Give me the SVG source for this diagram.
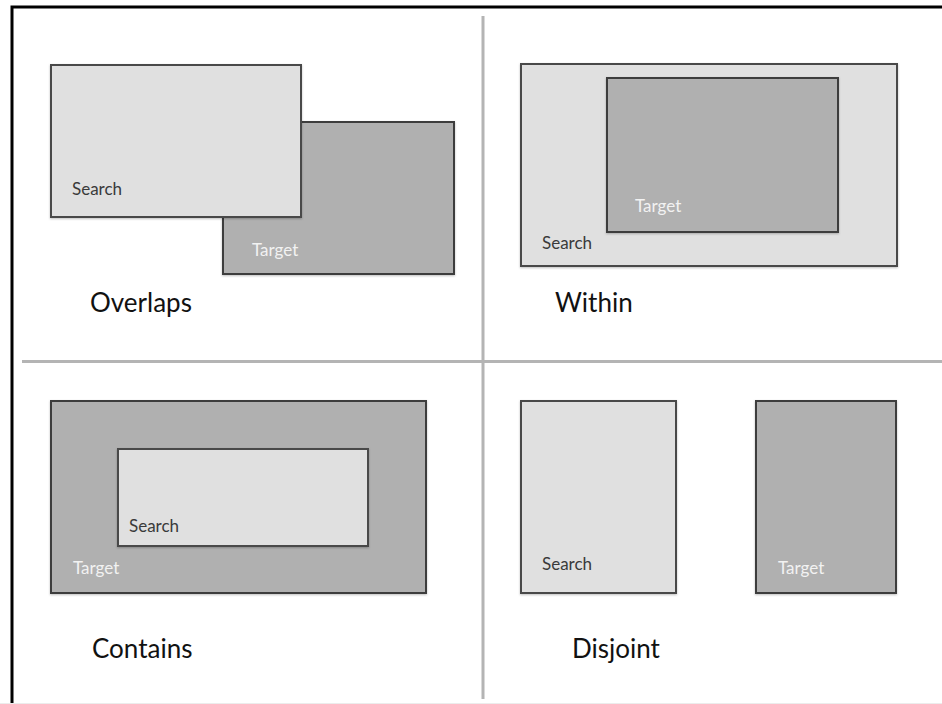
<svg xmlns="http://www.w3.org/2000/svg" width="942" height="704" viewBox="0 0 942 704">
  <defs>
    <filter id="shade" x="-5%" y="-5%" width="110%" height="115%">
      <feDropShadow dx="0" dy="1" stdDeviation="0.8" flood-color="#000" flood-opacity="0.25"/>
    </filter>
  </defs>
  <style>
    .frame { fill: none; stroke: #000; stroke-width: 3; }
    .divider { stroke: #b4b4b4; stroke-width: 3; }
    .search { fill: #e0e0e0; stroke: #4a4a4a; stroke-width: 2; filter: url(#shade); }
    .target { fill: #b0b0b0; stroke: #3c3c3c; stroke-width: 2; filter: url(#shade); }
    .lbl-s { font-family: Lato, "Open Sans", sans-serif; font-size: 17px; fill: #3a3a3a; }
    .lbl-t { font-family: Lato, "Open Sans", sans-serif; font-size: 17px; fill: #f2f2f2; }
    .caption { font-family: Lato, "Open Sans", sans-serif; font-size: 26px; fill: #111; }
  </style>

  <rect width="942" height="704" fill="#fff"/>

  <!-- page frame: top and left edges -->
  <path class="frame" d="M942 7 H12 V704"/>
  <line x1="0" y1="703.5" x2="942" y2="703.5" stroke="#ececec" stroke-width="1"/>

  <!-- quadrant dividers -->
  <g id="dividers">
    <line class="divider" x1="483" y1="16" x2="483" y2="699"/>
    <line class="divider" x1="22" y1="361.5" x2="942" y2="361.5"/>
  </g>

  <!-- Overlaps -->
  <g id="overlaps">
    <g id="overlaps-target">
      <rect class="target" x="223" y="122" width="231" height="152"/>
      <text class="lbl-t" x="252" y="256">Target</text>
    </g>
    <g id="overlaps-search">
      <rect class="search" x="51" y="65" width="250" height="152"/>
      <text class="lbl-s" x="72" y="195">Search</text>
    </g>
    <text class="caption" x="90" y="312">Overlaps</text>
  </g>

  <!-- Within -->
  <g id="within">
    <g id="within-search">
      <rect class="search" x="521" y="64" width="376" height="202"/>
      <text class="lbl-s" x="542" y="249">Search</text>
    </g>
    <g id="within-target">
      <rect class="target" x="607" y="78" width="231" height="154"/>
      <text class="lbl-t" x="635" y="212">Target</text>
    </g>
    <text class="caption" x="555" y="312">Within</text>
  </g>

  <!-- Contains -->
  <g id="contains">
    <g id="contains-target">
      <rect class="target" x="51" y="401" width="375" height="192"/>
      <text class="lbl-t" x="73" y="574">Target</text>
    </g>
    <g id="contains-search">
      <rect class="search" x="118" y="449" width="250" height="97"/>
      <text class="lbl-s" x="129" y="532">Search</text>
    </g>
    <text class="caption" x="92" y="658">Contains</text>
  </g>

  <!-- Disjoint -->
  <g id="disjoint">
    <g id="disjoint-search">
      <rect class="search" x="521" y="401" width="155" height="192"/>
      <text class="lbl-s" x="542" y="570">Search</text>
    </g>
    <g id="disjoint-target">
      <rect class="target" x="756" y="401" width="140" height="192"/>
      <text class="lbl-t" x="778" y="574">Target</text>
    </g>
    <text class="caption" x="572" y="658">Disjoint</text>
  </g>
</svg>
